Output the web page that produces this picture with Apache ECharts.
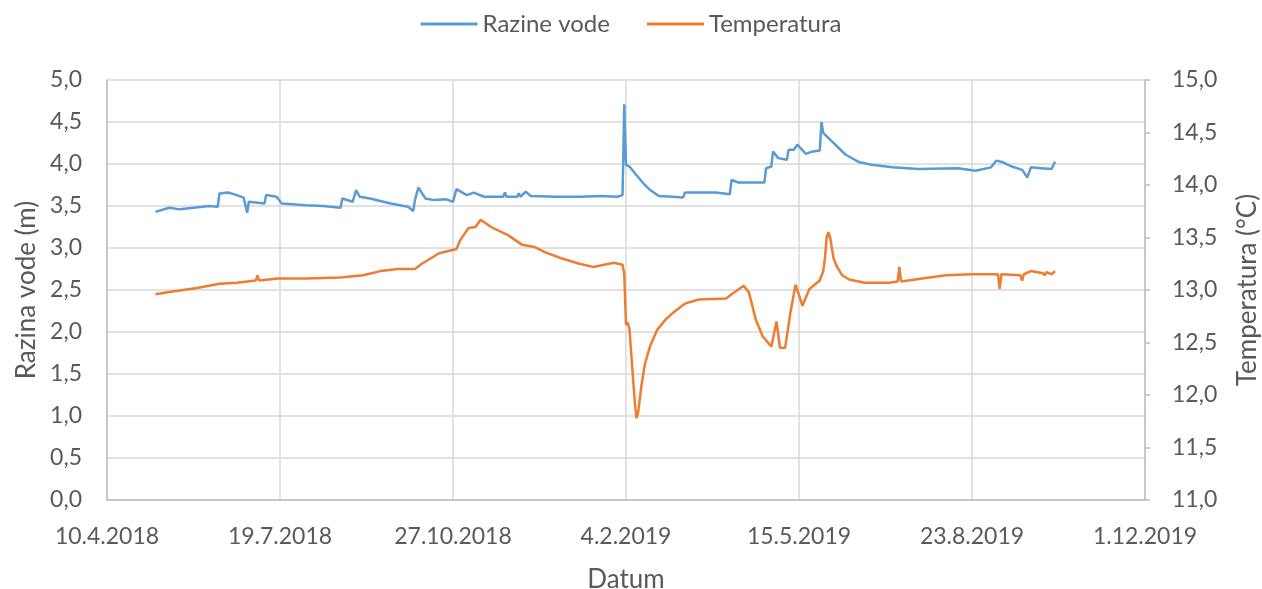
<!DOCTYPE html>
<html>
<head>
<meta charset="utf-8">
<title>Razine vode / Temperatura</title>
<script src="https://cdn.jsdelivr.net/npm/echarts@6/dist/echarts.min.js"></script>
<style>
  html, body { margin: 0; padding: 0; background: #fff; }
  #chart { width: 1262px; height: 589px; }
</style>
</head>
<body>
<div id="chart"></div>
<script>
// water level (m)
const levelData = [
  ["2018-05-08", 3.43], ["2018-05-16", 3.48], ["2018-05-22", 3.46], ["2018-05-30", 3.48],
  ["2018-06-08", 3.50], ["2018-06-13", 3.49], ["2018-06-14", 3.65], ["2018-06-19", 3.66],
  ["2018-06-24", 3.63], ["2018-06-28", 3.60], ["2018-06-30", 3.42], ["2018-07-01", 3.55],
  ["2018-07-10", 3.53], ["2018-07-11", 3.63], ["2018-07-17", 3.61], ["2018-07-20", 3.53],
  ["2018-08-03", 3.51], ["2018-08-13", 3.50], ["2018-08-23", 3.48], ["2018-08-24", 3.59],
  ["2018-08-30", 3.55], ["2018-09-01", 3.69], ["2018-09-03", 3.61], ["2018-09-09", 3.59],
  ["2018-09-21", 3.53], ["2018-10-01", 3.49], ["2018-10-04", 3.44], ["2018-10-05", 3.57],
  ["2018-10-07", 3.72], ["2018-10-11", 3.59], ["2018-10-16", 3.57], ["2018-10-23", 3.58],
  ["2018-10-27", 3.55], ["2018-10-29", 3.70], ["2018-11-04", 3.63], ["2018-11-08", 3.66],
  ["2018-11-14", 3.61], ["2018-11-25", 3.61], ["2018-11-26", 3.66], ["2018-11-27", 3.61],
  ["2018-12-03", 3.61], ["2018-12-04", 3.65], ["2018-12-05", 3.61], ["2018-12-08", 3.67],
  ["2018-12-11", 3.62], ["2018-12-26", 3.61], ["2019-01-08", 3.61], ["2019-01-20", 3.62],
  ["2019-01-30", 3.61], ["2019-02-02", 3.63], ["2019-02-03", 4.71], ["2019-02-04", 3.99],
  ["2019-02-06", 3.97], ["2019-02-10", 3.87], ["2019-02-14", 3.77], ["2019-02-18", 3.69],
  ["2019-02-23", 3.62], ["2019-03-03", 3.61], ["2019-03-09", 3.60], ["2019-03-10", 3.66],
  ["2019-03-18", 3.66], ["2019-03-28", 3.66], ["2019-04-05", 3.64], ["2019-04-06", 3.81],
  ["2019-04-10", 3.78], ["2019-04-18", 3.78], ["2019-04-25", 3.78], ["2019-04-26", 3.95],
  ["2019-04-29", 3.97], ["2019-04-30", 4.15], ["2019-05-03", 4.07], ["2019-05-08", 4.05],
  ["2019-05-09", 4.17], ["2019-05-12", 4.17], ["2019-05-14", 4.23], ["2019-05-19", 4.12],
  ["2019-05-23", 4.15], ["2019-05-27", 4.16], ["2019-05-28", 4.50], ["2019-05-29", 4.37],
  ["2019-06-03", 4.27], ["2019-06-11", 4.11], ["2019-06-19", 4.02], ["2019-06-26", 3.99],
  ["2019-07-08", 3.96], ["2019-07-23", 3.94], ["2019-08-15", 3.95], ["2019-08-25", 3.92],
  ["2019-09-03", 3.96], ["2019-09-06", 4.04], ["2019-09-10", 4.02], ["2019-09-15", 3.97],
  ["2019-09-21", 3.93], ["2019-09-24", 3.84], ["2019-09-26", 3.96], ["2019-10-02", 3.95],
  ["2019-10-08", 3.94], ["2019-10-10", 4.03]
];

// temperature (°C), right axis
const tempData = [
  ["2018-05-08", 12.96], ["2018-05-16", 12.98], ["2018-06-01", 13.02], ["2018-06-14", 13.06],
  ["2018-06-24", 13.07], ["2018-07-05", 13.09], ["2018-07-06", 13.14], ["2018-07-07", 13.09],
  ["2018-07-18", 13.11], ["2018-08-03", 13.11], ["2018-08-23", 13.12], ["2018-09-05", 13.14],
  ["2018-09-15", 13.18], ["2018-09-25", 13.20], ["2018-10-05", 13.20], ["2018-10-09", 13.25],
  ["2018-10-19", 13.35], ["2018-10-29", 13.39], ["2018-10-31", 13.47], ["2018-11-05", 13.59],
  ["2018-11-09", 13.60], ["2018-11-12", 13.67], ["2018-11-18", 13.60], ["2018-11-28", 13.52],
  ["2018-12-06", 13.43], ["2018-12-13", 13.41], ["2018-12-19", 13.36], ["2018-12-29", 13.30],
  ["2019-01-08", 13.25], ["2019-01-16", 13.22], ["2019-01-28", 13.26], ["2019-02-02", 13.24],
  ["2019-02-03", 13.15], ["2019-02-04", 12.67], ["2019-02-05", 12.69], ["2019-02-06", 12.63],
  ["2019-02-07", 12.40], ["2019-02-09", 11.95], ["2019-02-10", 11.78], ["2019-02-11", 11.83],
  ["2019-02-13", 12.10], ["2019-02-15", 12.30], ["2019-02-18", 12.47], ["2019-02-22", 12.62],
  ["2019-02-27", 12.72], ["2019-03-03", 12.78], ["2019-03-10", 12.87], ["2019-03-18", 12.91],
  ["2019-04-03", 12.92], ["2019-04-06", 12.96], ["2019-04-13", 13.04], ["2019-04-16", 12.98],
  ["2019-04-20", 12.72], ["2019-04-24", 12.56], ["2019-04-29", 12.46], ["2019-05-02", 12.70],
  ["2019-05-04", 12.45], ["2019-05-07", 12.45], ["2019-05-10", 12.78], ["2019-05-13", 13.05],
  ["2019-05-15", 12.95], ["2019-05-17", 12.85], ["2019-05-21", 13.01], ["2019-05-27", 13.09],
  ["2019-05-29", 13.18], ["2019-05-30", 13.30], ["2019-05-31", 13.50], ["2019-06-01", 13.55],
  ["2019-06-02", 13.50], ["2019-06-03", 13.40], ["2019-06-04", 13.30], ["2019-06-06", 13.22],
  ["2019-06-09", 13.14], ["2019-06-13", 13.10], ["2019-06-22", 13.07], ["2019-07-06", 13.07],
  ["2019-07-11", 13.08], ["2019-07-12", 13.22], ["2019-07-13", 13.08], ["2019-07-21", 13.10],
  ["2019-08-08", 13.14], ["2019-08-23", 13.15], ["2019-09-07", 13.15], ["2019-09-08", 13.01],
  ["2019-09-09", 13.15], ["2019-09-20", 13.14], ["2019-09-21", 13.09], ["2019-09-22", 13.15],
  ["2019-09-26", 13.18], ["2019-10-03", 13.16], ["2019-10-04", 13.14], ["2019-10-05", 13.17],
  ["2019-10-08", 13.15], ["2019-10-10", 13.18]
];

const seriesNames = ["Razine vode", "Temperatura"];
const axisNames = ["Datum", "Razina vode (m)", "Temperatura (°C)"];
const xRange = ["2018-04-10", "2019-12-01"];

// Excel-style day serials, so that 100-day ticks land on 10.4.2018, 19.7.2018 ...
const DAY = 86400000;
const EPOCH = Date.UTC(1899, 11, 30);
function toSerial(s) {
  const p = s.split("-");
  return (Date.UTC(+p[0], +p[1] - 1, +p[2]) - EPOCH) / DAY;
}
function serialLabel(v) {
  const d = new Date(EPOCH + v * DAY);
  return d.getUTCDate() + "." + (d.getUTCMonth() + 1) + "." + d.getUTCFullYear();
}
function comma(v) {
  return v.toFixed(1).replace(".", ",");
}

const font = "Lato, 'Open Sans', sans-serif";
const textColor = "#595959";
const gridColor = "#d9d9d9";
const axisColor = "#bfbfbf";
const labelSize = 23;
const nameSize = 26;

const chart = echarts.init(document.getElementById("chart"));
chart.setOption({
  animation: false,
  color: ["#5b9bd5", "#ed7d31"],
  textStyle: { fontFamily: font },
  legend: {
    top: 7,
    left: "center",
    icon: "rect",
    itemWidth: 57,
    itemHeight: 3,
    itemGap: 37,
    textStyle: { fontSize: 24, color: textColor, fontFamily: font },
    data: seriesNames
  },
  // fixed plot box, don't let v6 shrink it to fit the axis names
  grid: { left: 107, right: 117, top: 80, bottom: 89, containLabel: false, outerBoundsMode: "none" },
  xAxis: {
    type: "value",
    min: toSerial(xRange[0]),
    max: toSerial(xRange[1]),
    interval: 100,
    name: axisNames[0],
    nameLocation: "middle",
    nameGap: 67,
    nameTextStyle: { fontSize: nameSize, color: textColor },
    axisLine: { show: true, lineStyle: { color: axisColor, width: 1.5 } },
    axisTick: { show: false },
    splitLine: { show: true, lineStyle: { color: gridColor, width: 1.5 } },
    axisLabel: { color: textColor, fontSize: labelSize, margin: 25, formatter: serialLabel }
  },
  yAxis: [
    {
      type: "value",
      min: 0,
      max: 5,
      interval: 0.5,
      name: axisNames[1],
      nameLocation: "middle",
      nameRotate: 90,
      nameGap: 63,
      nameTextStyle: { fontSize: nameSize, color: textColor },
      axisLine: { show: true, lineStyle: { color: axisColor, width: 1.5 } },
      axisTick: { show: false },
      splitLine: { show: true, lineStyle: { color: gridColor, width: 1.5 } },
      axisLabel: { color: textColor, fontSize: labelSize, margin: 25, formatter: comma }
    },
    {
      type: "value",
      min: 11,
      max: 15,
      interval: 0.5,
      position: "right",
      name: axisNames[2],
      nameLocation: "middle",
      nameRotate: 90,
      nameGap: 90,
      nameTextStyle: { fontSize: nameSize, color: textColor },
      axisLine: { show: true, lineStyle: { color: axisColor, width: 1.5 } },
      axisTick: { show: true, length: 5, lineStyle: { color: axisColor, width: 1.5 } },
      splitLine: { show: false },
      axisLabel: { color: textColor, fontSize: labelSize, margin: 27, formatter: comma }
    }
  ],
  series: [
    {
      name: seriesNames[0],
      type: "line",
      yAxisIndex: 0,
      symbol: "none",
      lineStyle: { width: 2.5 },
      data: levelData.map(d => [toSerial(d[0]), d[1]])
    },
    {
      name: seriesNames[1],
      type: "line",
      yAxisIndex: 1,
      symbol: "none",
      lineStyle: { width: 2.5 },
      data: tempData.map(d => [toSerial(d[0]), d[1]])
    }
  ]
});
</script>
</body>
</html>
